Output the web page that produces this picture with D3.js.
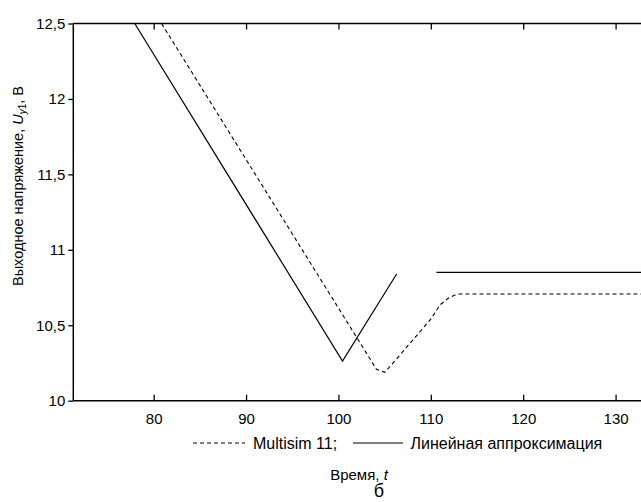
<head>
<script src="https://cdnjs.cloudflare.com/ajax/libs/d3/7.8.5/d3.min.js"></script>
</head>
<style>
body { margin: 0; background: #fff; }
svg text { font-family: "Liberation Sans", Arial, sans-serif; fill: #000; }
</style>
<body>
<svg id="chart" width="641" height="502"></svg>
<script>
// data
const xTicks = [80, 90, 100, 110, 120, 130];
const yTicks = [10, 10.5, 11, 11.5, 12, 12.5];

// Multisim 11 (dashed)
const simTime = [80.85, 104.12, 105.02, 105.56, 110.07, 110.97, 111.88, 112.6, 113.1, 132.75];
const simU    = [12.5, 10.208, 10.188, 10.225, 10.546, 10.634, 10.679, 10.70, 10.707, 10.707];

// linear approximation (solid), two pieces
const linTime1 = [77.95, 100.44, 106.3];
const linU1    = [12.5, 10.263, 10.84];
const linTime2 = [110.6, 132.75];
const linU2    = [10.85, 10.85];

const svg = d3.select('#chart');
const mLeft = 73.3, mRight = 641, mTop = 23.5, mBottom = 400.7;

const x = d3.scaleLinear().domain([71.3, 132.75]).range([mLeft, mRight]);
const y = d3.scaleLinear().domain([10, 12.5]).range([mBottom, mTop]);

const fmt = d => String(d).replace('.', ',');

// left axis
const yAxis = svg.append('g')
	.attr('transform', `translate(${mLeft},0)`)
	.call(d3.axisLeft(y).tickValues(yTicks).tickFormat(fmt).tickSize(5).tickPadding(3));

// bottom axis, ticks point inward
const xAxis = svg.append('g')
	.attr('transform', `translate(0,${mBottom})`)
	.call(d3.axisBottom(x).tickValues(xTicks).tickSize(-6).tickPadding(13));

// top axis, no labels
const tAxis = svg.append('g')
	.attr('transform', `translate(0,${mTop})`)
	.call(d3.axisTop(x).tickValues(xTicks).tickFormat('').tickSize(-6));

[yAxis, xAxis, tAxis].forEach(g => {
	g.select('.domain').remove();
	g.selectAll('.tick line').attr('stroke', '#000').attr('stroke-width', 1.3);
	g.selectAll('.tick text').attr('font-size', 15).attr('fill', '#000');
});

svg.append('line').attr('x1', mLeft).attr('x2', mRight).attr('y1', mBottom).attr('y2', mBottom)
	.attr('stroke', '#000').attr('stroke-width', 1.6);
svg.append('line').attr('x1', mLeft).attr('x2', mRight).attr('y1', mTop).attr('y2', mTop)
	.attr('stroke', '#000').attr('stroke-width', 1.5);
svg.append('line').attr('x1', mLeft).attr('x2', mLeft).attr('y1', mTop).attr('y2', mBottom)
	.attr('stroke', '#000').attr('stroke-width', 1.5);

const line = d3.line().x(d => x(d[0])).y(d => y(d[1]));

svg.append('path')
	.datum(d3.zip(simTime, simU))
	.attr('d', line)
	.attr('fill', 'none')
	.attr('stroke', '#000')
	.attr('stroke-width', 1.1)
	.attr('stroke-dasharray', '4,3');

[[linTime1, linU1], [linTime2, linU2]].forEach(([t, u]) => {
	svg.append('path')
		.datum(d3.zip(t, u))
		.attr('d', line)
		.attr('fill', 'none')
		.attr('stroke', '#000')
		.attr('stroke-width', 1.2);
});

// legend
const legY = 443;
svg.append('line').attr('x1', 193).attr('x2', 245).attr('y1', legY).attr('y2', legY)
	.attr('stroke', '#000').attr('stroke-width', 1.1).attr('stroke-dasharray', '4,3');
svg.append('text').attr('x', 253).attr('y', legY + 5.5).attr('font-size', 16).text('Multisim 11;');
svg.append('line').attr('x1', 353).attr('x2', 403).attr('y1', legY).attr('y2', legY)
	.attr('stroke', '#000').attr('stroke-width', 1.2);
svg.append('text').attr('x', 410.5).attr('y', legY + 5.5).attr('font-size', 16).text('Линейная аппроксимация');

// axis titles
const xt = svg.append('text').attr('x', 359).attr('y', 480).attr('text-anchor', 'middle').attr('font-size', 15);
xt.append('tspan').text('Время, ');
xt.append('tspan').attr('font-style', 'italic').text('t');

svg.append('text').attr('x', 379).attr('y', 497).attr('text-anchor', 'middle').attr('font-size', 18).text('б');

const yt = svg.append('text')
	.attr('transform', 'translate(23,186) rotate(-90)')
	.attr('text-anchor', 'middle')
	.attr('font-size', 14.5);
yt.append('tspan').text('Выходное напряжение, ');
yt.append('tspan').attr('font-style', 'italic').text('U');
yt.append('tspan').attr('font-style', 'italic').attr('font-size', 10).attr('dy', 3).text('y');
yt.append('tspan').attr('font-size', 10).text('1');
yt.append('tspan').attr('dy', -3).text(', В');
</script>
</body>
